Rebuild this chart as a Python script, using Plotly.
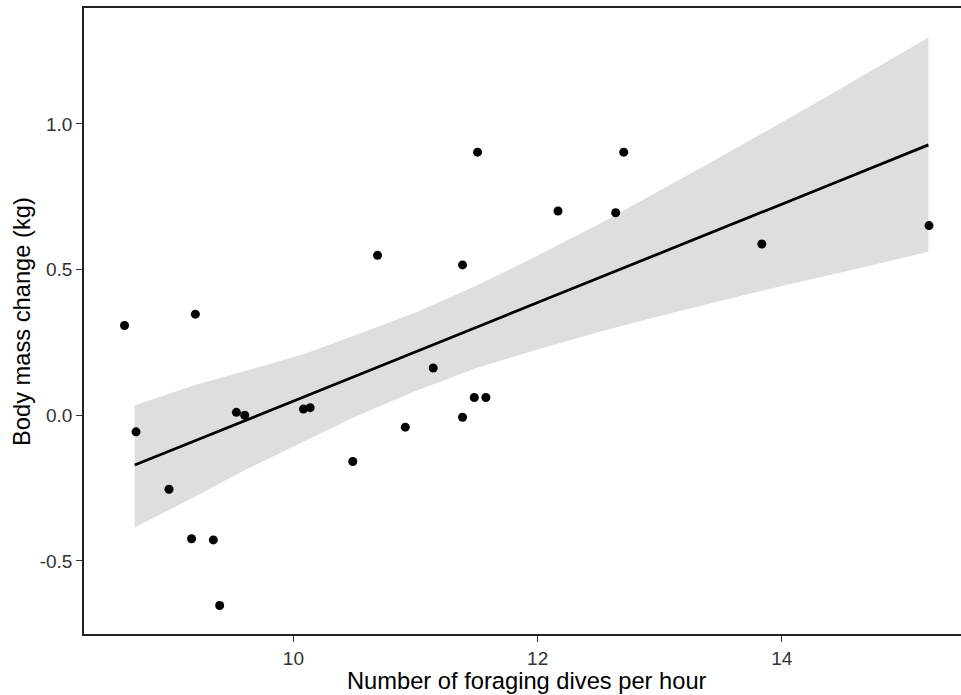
import plotly.graph_objects as go

# Observed points
dives_per_hour = [8.617, 9.197, 8.711, 9.533, 9.601, 10.082, 10.137, 8.981, 9.166, 9.344,
                  9.396, 10.689, 11.385, 11.145, 11.481, 11.576, 11.385, 10.916, 10.486,
                  11.508, 12.705, 12.167, 12.639, 13.836, 15.205]
mass_change = [0.308, 0.347, -0.057, 0.010, 0.000, 0.021, 0.026, -0.254, -0.424, -0.428,
               -0.653, 0.549, 0.516, 0.162, 0.061, 0.061, -0.007, -0.041, -0.159,
               0.903, 0.903, 0.701, 0.695, 0.588, 0.651]

# Fitted line and confidence band
fit_x = [8.70, 9.20, 9.60, 10.10, 10.50, 11.00, 11.50, 12.00, 12.50, 13.00, 13.50, 14.00, 14.50, 15.20]
fit_y = [-0.171, -0.087, -0.019, 0.066, 0.133, 0.218, 0.302, 0.387, 0.471, 0.556, 0.640, 0.725, 0.809, 0.928]
band_hi = [0.034, 0.105, 0.151, 0.212, 0.274, 0.353, 0.445, 0.548, 0.656, 0.771, 0.887, 1.006, 1.126, 1.297]
band_lo = [-0.385, -0.278, -0.189, -0.088, -0.006, 0.083, 0.162, 0.226, 0.286, 0.341, 0.393, 0.444, 0.492, 0.561]

x_ticks = [10, 12, 14]
y_ticks = [-0.5, 0.0, 0.5, 1.0]
y_tick_text = ["-0.5", "0.0", "0.5", "1.0"]

FONT = "Liberation Sans, Arial, sans-serif"

fig = go.Figure()
fig.add_trace(go.Scatter(
    x=fit_x + fit_x[::-1],
    y=band_hi + band_lo[::-1],
    fill="toself", fillcolor="rgb(222,222,222)",
    line=dict(width=0), mode="lines", hoverinfo="skip", showlegend=False))
fig.add_trace(go.Scatter(
    x=fit_x, y=fit_y, mode="lines",
    line=dict(color="black", width=2.8), showlegend=False))
fig.add_trace(go.Scatter(
    x=dives_per_hour, y=mass_change, mode="markers",
    marker=dict(color="black", size=9, line=dict(width=0)), showlegend=False))

fig.update_layout(
    width=961, height=695,
    margin=dict(l=84, r=0, t=8, b=61),
    plot_bgcolor="white", paper_bgcolor="white",
    font=dict(family=FONT, color="black"),
    xaxis=dict(range=[8.285, 15.467], tickvals=x_ticks, ticks="outside", ticklen=6,
               tickwidth=1.3, tickcolor="#333333", showline=True, linecolor="#222222",
               linewidth=1.6, mirror=True, showgrid=False, zeroline=False,
               tickfont=dict(size=19, color="#333333", family=FONT)),
    yaxis=dict(range=[-0.751, 1.398], tickvals=y_ticks, ticktext=y_tick_text,
               ticks="outside", ticklen=6, tickwidth=1.3, tickcolor="#333333",
               showline=True, linecolor="#222222", linewidth=1.6, showgrid=False,
               zeroline=False, tickfont=dict(size=19, color="#333333", family=FONT)),
    annotations=[
        dict(text="Number of foraging dives per hour", xref="paper", yref="paper",
             x=0.5046, y=-0.075, xanchor="center", yanchor="middle", showarrow=False,
             font=dict(size=23.7, color="black", family=FONT)),
        dict(text="Body mass change (kg)", xref="paper", yref="paper",
             x=-0.0707, y=0.5, xanchor="center", yanchor="middle", textangle=-90,
             showarrow=False, font=dict(size=23.7, color="black", family=FONT)),
    ],
)

fig.write_html("out.html", config={"displayModeBar": False},
               post_script="document.body.style.margin='0px';")
